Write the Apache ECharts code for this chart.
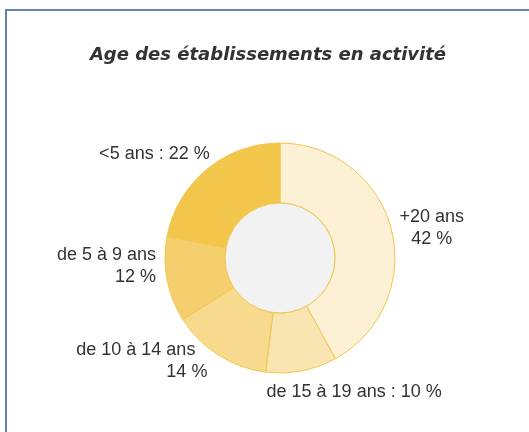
<!DOCTYPE html>
<html>
<head>
<meta charset="utf-8">
<script src="https://cdn.jsdelivr.net/npm/echarts@6/dist/echarts.min.js"></script>
<style>
  html, body { margin: 0; padding: 0; background: #fff; overflow: hidden; }
  #frame {
    position: absolute; left: 5px; top: 9px; width: 600px; height: 500px;
    border-left: 2px solid #6382ad; border-top: 2px solid #6382ad;
  }
  #chart { position: absolute; left: 0; top: 0; width: 529px; height: 432px; }
</style>
</head>
<body>
<div id="frame"></div>
<div id="chart"></div>
<script>
const titleText = 'Age des établissements en activité'
const categories = ['+20 ans', 'de 15 à 19 ans', 'de 10 à 14 ans', 'de 5 à 9 ans', '<5 ans']
const values = [42, 10, 14, 12, 22]
const colors = ['#fcf0d5', '#f9e5b1', '#f7da8d', '#f5cf6d', '#f2c54b']
// how each label is written
const labelTemplates = [
  '{a|{name}}\n{c|{pct}}',
  '{a|{name} : {pct}}',
  '{p|{name}}\n{a|{pct}}',
  '{a|{name}}\n{a|{pct}}',
  '{a|{name} : {pct}}',
]
// nudges of the labels from the default outside position
const labelShift = [[3, -1], [-40, 21], [-6, 6], [-6, -14], [8, -15]]

const chart = echarts.init(document.getElementById('chart'), null, { renderer: 'canvas' })

const pieData = categories.map((name, i) => ({
  name,
  value: values[i],
  itemStyle: { color: colors[i] },
  label: {
    formatter: labelTemplates[i].replace('{name}', name).replace('{pct}', values[i] + ' %'),
  },
}))

const txt = { fontFamily: 'Liberation Sans', fontSize: 18, color: '#333333', lineHeight: 22 }

chart.setOption({
  animation: false,
  title: {
    text: titleText,
    left: 263, top: 41, textAlign: 'center',
    textStyle: {
      fontFamily: 'DejaVu Sans', fontStyle: 'italic', fontWeight: 'bold',
      fontSize: 18, color: '#333333',
    },
  },
  series: [
    {
      type: 'pie',
      center: [280, 258],
      radius: [55, 115],
      startAngle: 90,
      clockwise: true,
      avoidLabelOverlap: false,
      silent: true,
      itemStyle: { borderColor: '#f2c54b', borderWidth: 1 },
      label: {
        show: true,
        position: 'outside',
        distanceToLabelLine: 5,
        ...txt,
        rich: {
          a: { ...txt },
          c: { ...txt, align: 'center' },
          p: { ...txt, padding: [0, 12, 0, 0] },
        },
      },
      labelLine: { show: false, length: 0, length2: 0 },
      labelLayout: (params) => ({ dx: labelShift[params.dataIndex][0], dy: labelShift[params.dataIndex][1] }),
      data: pieData,
    },
    {
      type: 'pie',
      center: [280, 258],
      radius: [0, 55],
      silent: true,
      label: { show: false },
      labelLine: { show: false },
      itemStyle: { color: '#f2f2f2', borderColor: '#f2c54b', borderWidth: 1 },
      data: [{ name: 'centre', value: 1 }],
    },
  ],
})
</script>
</body>
</html>
